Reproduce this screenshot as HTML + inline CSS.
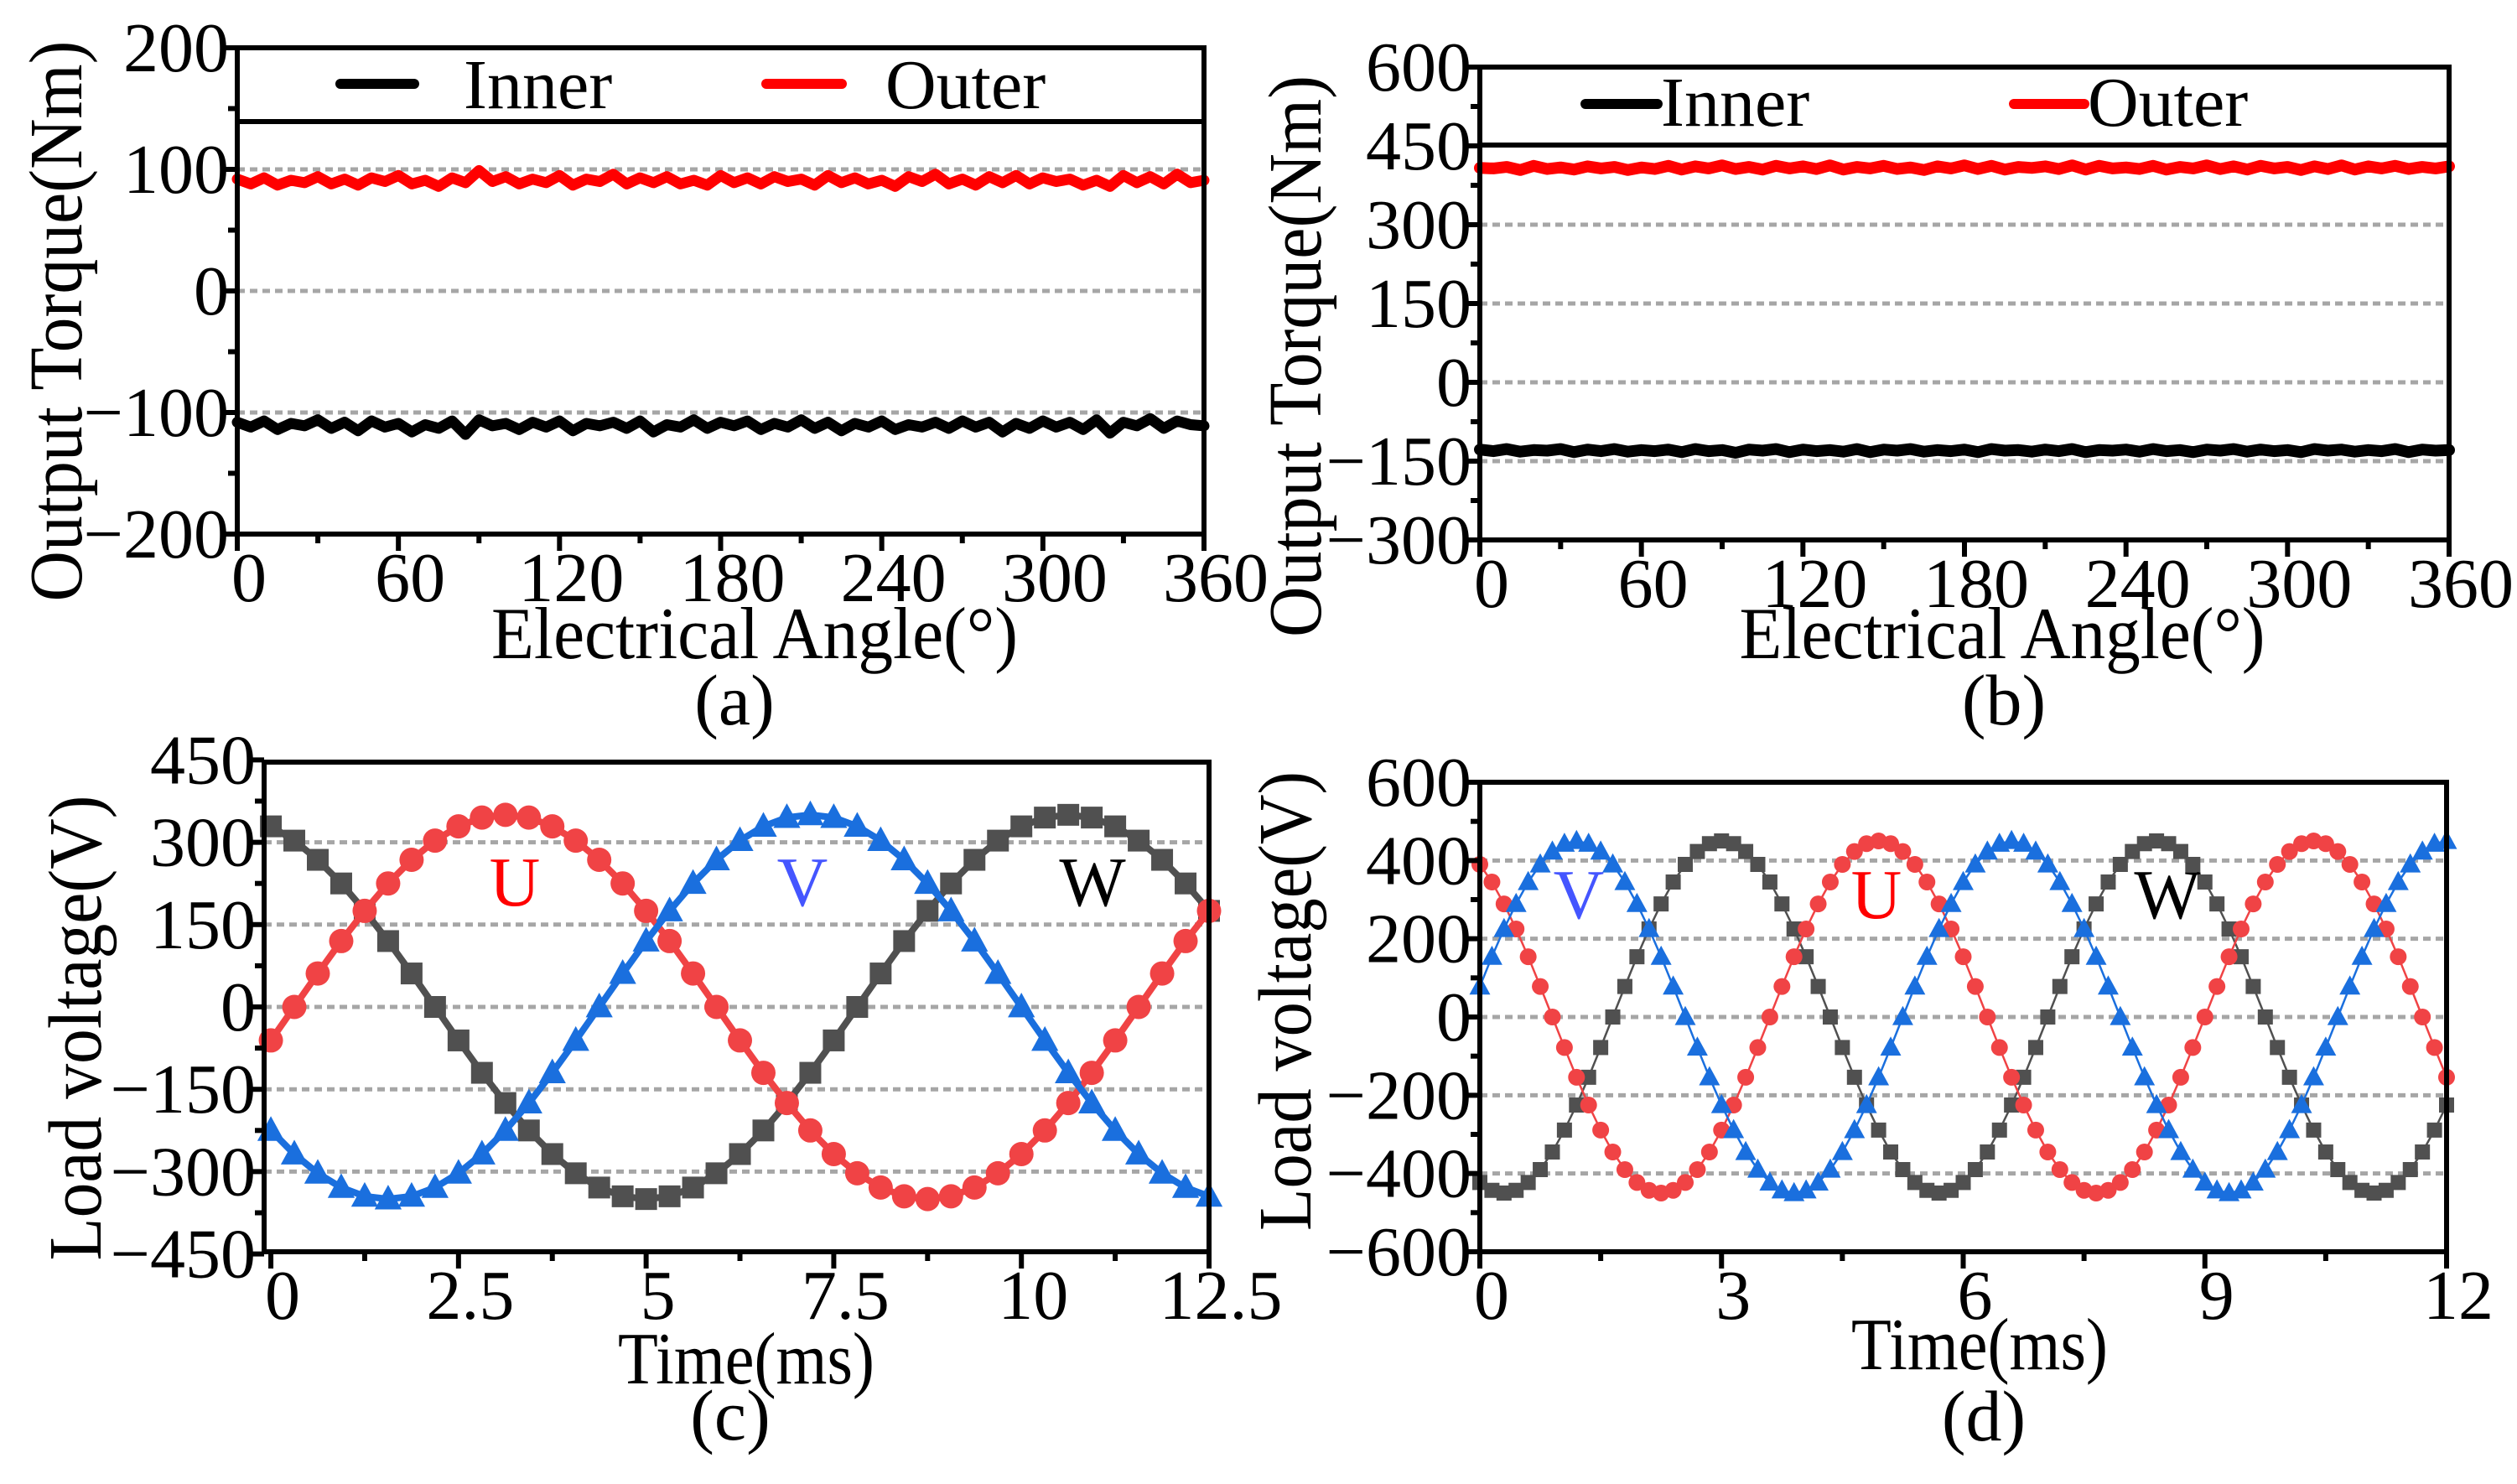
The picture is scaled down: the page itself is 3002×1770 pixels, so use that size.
<!DOCTYPE html>
<html><head><meta charset="utf-8"><style>
html,body{margin:0;padding:0;background:#fff}
svg{display:block}
text{font-family:"Liberation Serif","DejaVu Serif",serif}
</style></head><body>
<svg id="fig" width="3002" height="1770" viewBox="0 0 3002 1770" xmlns="http://www.w3.org/2000/svg"></svg>
<script>
// ---------- Data ----------
const angleStep = 5; // degrees between torque samples
const aOuter = [92,88,93,87,91,89,94,88,92,87,93,90,95,88,91,86,93,89,99,90,94,88,92,89,95,87,92,90,96,88,93,89,94,88,91,87,95,89,93,88,94,90,92,87,95,89,93,88,91,86,94,90,96,88,92,87,94,89,95,88,93,90,92,87,91,86,95,89,94,88,96,89,91];
const aInner = [-108,-112,-107,-114,-109,-111,-106,-113,-108,-115,-107,-112,-109,-116,-110,-113,-107,-118,-106,-111,-109,-114,-108,-112,-107,-115,-109,-111,-108,-113,-107,-116,-110,-112,-106,-113,-108,-111,-107,-114,-109,-112,-106,-113,-108,-115,-109,-112,-107,-114,-110,-112,-108,-113,-107,-112,-108,-116,-109,-113,-107,-112,-108,-114,-106,-117,-108,-111,-105,-113,-107,-110,-111];
const bOuter = [408,407,410,404,412,406,409,405,411,407,410,404,409,406,412,405,411,407,413,406,410,405,412,407,411,406,413,405,410,407,412,406,409,404,411,407,413,406,412,405,410,408,411,406,413,405,412,407,409,406,412,405,410,407,413,406,411,405,412,407,410,404,411,406,413,405,411,407,412,406,410,407,411];
const bInner = [-128,-131,-127,-132,-129,-130,-127,-133,-128,-131,-127,-132,-129,-131,-128,-133,-127,-131,-129,-134,-128,-130,-127,-133,-128,-131,-129,-132,-127,-133,-128,-130,-127,-132,-129,-131,-128,-133,-127,-130,-129,-132,-128,-131,-127,-133,-129,-130,-128,-132,-127,-131,-129,-133,-128,-130,-127,-132,-128,-131,-129,-133,-127,-130,-128,-132,-129,-131,-127,-133,-128,-130,-129];
const cStep = 0.3125; // ms
const cU = [-61,0,61,120,175,225,268,303,329,345,350,345,329,303,268,225,175,120,61,0,-61,-120,-175,-225,-268,-303,-329,-345,-350,-345,-329,-303,-268,-225,-175,-120,-61,0,61,120,175];
const cV = [-225,-268,-303,-329,-345,-350,-345,-329,-303,-268,-225,-175,-120,-61,0,61,120,175,225,268,303,329,345,350,345,329,303,268,225,175,120,61,0,-61,-120,-175,-225,-268,-303,-329,-345];
const cW = [329,303,268,225,175,120,61,0,-61,-120,-175,-225,-268,-303,-329,-345,-350,-345,-329,-303,-268,-225,-175,-120,-61,0,61,120,175,225,268,303,329,345,350,345,329,303,268,225,175];
const dStep = 0.15; // ms
const dV = [78,154,225,289,345,390,423,443,
 450,443,423,390,345,289,225,154,78,0,-78,-154,-225,-289,-345,-390,-423,-443,-450,-443,-423,-390,-345,-289,-225,-154,-78,0,78,154,225,289,345,390,423,443,
 450,443,423,390,345,289,225,154,78,0,-78,-154,-225,-289,-345,-390,-423,-443,-450,-443,-423,-390,-345,-289,-225,-154,-78,0,78,154,225,289,345,390,423,443,
 450];
const dW = [-423,-443,-450,-443,-423,-390,-345,-289,-225,-154,-78,0,78,154,225,289,345,390,423,443,
 450,443,423,390,345,289,225,154,78,0,-78,-154,-225,-289,-345,-390,-423,-443,-450,-443,-423,-390,-345,-289,-225,-154,-78,0,78,154,225,289,345,390,423,443,
 450,443,423,390,345,289,225,154,78,0,-78,-154,-225,-289,-345,-390,-423,-443,-450,-443,-423,-390,-345,-289,-225];
const dU = [390,345,289,225,154,78,0,-78,-154,-225,-289,-345,-390,-423,-443,-450,-443,-423,-390,-345,-289,-225,-154,-78,0,78,154,225,289,345,390,423,443,
 450,443,423,390,345,289,225,154,78,0,-78,-154,-225,-289,-345,-390,-423,-443,-450,-443,-423,-390,-345,-289,-225,-154,-78,0,78,154,225,289,345,390,423,443,
 450,443,423,390,345,289,225,154,78,0,-78,-154];
const aYTicks = [200,100,0,-100,-200];
const bYTicks = [600,450,300,150,0,-150,-300];
const cYTicks = [450,300,150,0,-150,-300,-450];
const dYTicks = [600,400,200,0,-200,-400,-600];
const angXTicks = [0,60,120,180,240,300,360];
const cXTicks = [0,2.5,5,7.5,10,12.5];
const dXTicks = [0,3,6,9,12];

// ---------- Helpers ----------
const NS = "http://www.w3.org/2000/svg";
const svg = document.getElementById('fig');
function el(tag, attrs, parent){
  const e = document.createElementNS(NS, tag);
  for (const k in attrs) e.setAttribute(k, attrs[k]);
  (parent||svg).appendChild(e);
  return e;
}
function txt(str, x, y, size, anchor, parent, fill, len){
  const t = el('text', {x:x, y:y, 'font-size':size, 'text-anchor':anchor||'middle', fill:fill||'#000'}, parent);
  if (len){ t.setAttribute('textLength', len); t.setAttribute('lengthAdjust','spacingAndGlyphs'); }
  t.textContent = str;
  return t;
}
function fmt(v){ return v < 0 ? '\u2212' + Math.abs(v) : String(v); }

function makeAxes(p){
  const g = el('g', {});
  
  
  const sx = v => p.L + (v - p.x0) / (p.x1 - p.x0) * (p.R - p.L);
  const sy = v => p.B - (v - p.y0) / (p.y1 - p.y0) * (p.B - p.T);
  p.grid.forEach(v => {
    const ln = el('line', {x1:p.L, x2:p.R, y1:sy(v), y2:sy(v), stroke:'#a6a6a6', 'stroke-width':5, 'stroke-dasharray':'9 6', 'stroke-linecap':'butt'}, g);
    
    
  });
  return {g, sx, sy};
}
function finishAxes(p, ax){
  const g = ax.g;
  const fr = el('rect', {x:p.L, y:p.T, width:p.R-p.L, height:p.B-p.T, fill:'none', stroke:'#000', 'stroke-width':6}, g);
  
  
  p.yTicks.forEach((v, i) => {
    const y = ax.sy(v);
    el('line', {x1:p.L-20, x2:p.L, y1:y, y2:y, stroke:'#000', 'stroke-width':6}, g);
    if (i < p.yTicks.length - 1){
      const ym = (y + ax.sy(p.yTicks[i+1])) / 2;
      el('line', {x1:p.L-11, x2:p.L, y1:ym, y2:ym, stroke:'#000', 'stroke-width':6}, g);
    }
    const t = txt(fmt(v), p.L-10, y+28, 84, 'end', g);
    
    
  });
  p.xTicks.forEach((v, i) => {
    const x = ax.sx(v);
    el('line', {x1:x, x2:x, y1:p.B, y2:p.B+20, stroke:'#000', 'stroke-width':6}, g);
    if (i < p.xTicks.length - 1){
      const xm = (x + ax.sx(p.xTicks[i+1])) / 2;
      el('line', {x1:xm, x2:xm, y1:p.B, y2:p.B+11, stroke:'#000', 'stroke-width':6}, g);
    }
    const t = txt(String(v), x + 14, p.B+80, 84, 'middle', g);
    
    
  });
  const xt = txt(p.xTitle[0], p.xTitle[1], p.xTitle[2], 88, 'middle', g, '#000', p.xTitle[3]);
  
  
  const yt = txt(p.yTitle[0], 0, 0, 90, 'middle', g, '#000', p.yTitle[3]);
  yt.setAttribute('transform', 'translate(' + p.yTitle[1] + ',' + p.yTitle[2] + ') rotate(-90)');
  yt.setAttribute('dy', '30');
  
  
  const pl = txt(p.label[0], p.label[1], p.label[2], 86, 'middle', g);
  
  
}
function drawLine(ax, vals, step, color, w, name){
  const pts = vals.map((v, i) => ax.sx(i*step).toFixed(1) + ',' + ax.sy(v).toFixed(1)).join(' ');
  const pl = el('polyline', {points:pts, fill:'none', stroke:color, 'stroke-width':w, 'stroke-linejoin':'round', 'stroke-linecap':'round'}, ax.g);
  
  
}
function drawMarkers(ax, vals, step, color, shape, sz, name){
  const g = el('g', {fill:color}, ax.g);
  
  
  vals.forEach((v, i) => {
    const x = ax.sx(i*step), y = ax.sy(v);
    let m;
    if (shape === 'square') m = el('rect', {x:x-sz/2, y:y-sz/2, width:sz, height:sz}, g);
    else if (shape === 'circle') m = el('circle', {cx:x, cy:y, r:sz/2}, g);
    else m = el('polygon', {points:(x)+','+(y-sz*0.55)+' '+(x-sz*0.52)+','+(y+sz*0.4)+' '+(x+sz*0.52)+','+(y+sz*0.4)}, g);
    
    
  });
}
function legend(ax, p, items){
  const lb = el('line', {x1:p.L, x2:p.R, y1:p.legendY, y2:p.legendY, stroke:'#000', 'stroke-width':6}, ax.g);
  
  
  items.forEach(it => {
    const g = el('g', {}, ax.g);
    
    
    el('line', {x1:it.x1, x2:it.x2, y1:it.ly, y2:it.ly, stroke:it.c, 'stroke-width':12, 'stroke-linecap':'round'}, g);
    txt(it.t, it.tx, it.ty, 84, 'start', g);
  });
}

// ---------- Panel (a) ----------
const pa = {name:'panel-a-torque', L:283, R:1436, T:57, B:637, x0:0, x1:360, y0:-200, y1:200, grid:[100,0,-100],
  yTicks:aYTicks, xTicks:angXTicks, legendY:145,
  xTitle:['Electrical Angle(°)', 900, 785, 628], yTitle:['Output Torque(Nm)', 67, 383, 669], label:['(a)', 876, 864]};
const axA = makeAxes(pa);
drawLine(axA, aOuter, angleStep, '#ff0000', 13, 'outer-torque-line');
drawLine(axA, aInner, angleStep, '#000', 13, 'inner-torque-line');
finishAxes(pa, axA);
legend(axA, pa, [{x1:406,x2:494,ly:100,t:'Inner',tx:553,ty:129,c:'#000'},{x1:914,x2:1004,ly:100,t:'Outer',tx:1056,ty:129,c:'#ff0000'}]);

// ---------- Panel (b) ----------
const pb = {name:'panel-b-torque', L:1765, R:2921, T:80, B:644, x0:0, x1:360, y0:-300, y1:600, grid:[300,150,0,-150],
  yTicks:bYTicks, xTicks:angXTicks, legendY:173,
  xTitle:['Electrical Angle(°)', 2388, 785, 627], yTitle:['Output Torque(Nm)', 1545, 425, 670], label:['(b)', 2390, 864]};
const axB = makeAxes(pb);
drawLine(axB, bOuter, angleStep, '#ff0000', 14, 'outer-torque-line');
drawLine(axB, bInner, angleStep, '#000', 14, 'inner-torque-line');
finishAxes(pb, axB);
legend(axB, pb, [{x1:1891,x2:1977,ly:124,t:'Inner',tx:1981,ty:150,c:'#000'},{x1:2402,x2:2486,ly:124,t:'Outer',tx:2490,ty:150,c:'#ff0000'}]);

// ---------- Panel (c) ----------
const pc = {name:'panel-c-voltage', L:315, R:1442, T:909, B:1493, x0:-0.09, x1:12.5, y0:-446, y1:446, grid:[300,150,0,-150,-300],
  yTicks:cYTicks, xTicks:cXTicks,
  xTitle:['Time(ms)', 890, 1650, 306], yTitle:['Load voltage(V)', 90, 1226, 555], label:['(c)', 871, 1717]};
const axC = makeAxes(pc);
drawLine(axC, cW, cStep, '#505050', 8, 'phase-w-line');
drawMarkers(axC, cW, cStep, '#505050', 'square', 26, 'phase-w-markers');
drawLine(axC, cU, cStep, '#f04345', 8, 'phase-u-line');
drawMarkers(axC, cU, cStep, '#f04345', 'circle', 29, 'phase-u-markers');
drawLine(axC, cV, cStep, '#1a6fde', 8, 'phase-v-line');
drawMarkers(axC, cV, cStep, '#1a6fde', 'tri', 31, 'phase-v-markers');
finishAxes(pc, axC);
[['U',614,1080,'#ff0000'],['V',957,1080,'#4455ff'],['W',1303,1080,'#000000']].forEach(a => {
  const t = txt(a[0], a[1], a[2], 84, 'middle', axC.g, a[3]);
  
  
});

// ---------- Panel (d) ----------
const pd = {name:'panel-d-voltage', L:1765, R:2918, T:933, B:1493, x0:0, x1:12, y0:-600, y1:600, grid:[400,200,0,-200,-400],
  yTicks:dYTicks, xTicks:dXTicks,
  xTitle:['Time(ms)', 2361, 1633, 306], yTitle:['Load voltage(V)', 1533, 1194, 548], label:['(d)', 2366, 1718]};
const axD = makeAxes(pd);
drawLine(axD, dW, dStep, '#505050', 2.5, 'phase-w-line');
drawMarkers(axD, dW, dStep, '#505050', 'square', 18, 'phase-w-markers');
drawLine(axD, dU, dStep, '#f04345', 2.5, 'phase-u-line');
drawMarkers(axD, dU, dStep, '#f04345', 'circle', 20, 'phase-u-markers');
drawLine(axD, dV, dStep, '#1a6fde', 2.5, 'phase-v-line');
drawMarkers(axD, dV, dStep, '#1a6fde', 'tri', 24, 'phase-v-markers');
finishAxes(pd, axD);
[['V',1883,1095,'#4455ff'],['U',2238,1095,'#ff0000'],['W',2585,1095,'#000000']].forEach(a => {
  const t = txt(a[0], a[1], a[2], 84, 'middle', axD.g, a[3]);
  
  
});
</script>
</body></html>
